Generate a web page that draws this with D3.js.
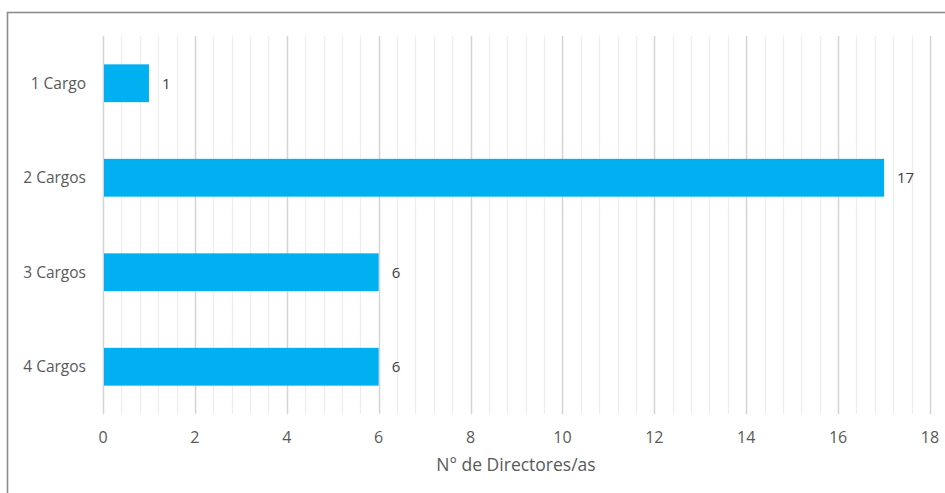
<!DOCTYPE html>
<html>
<head>
<meta charset="utf-8">
<script src="https://cdn.jsdelivr.net/npm/d3@7"></script>
<style>
  body { margin: 0; background: #fff; }
  text { font-family: "Open Sans", "Liberation Sans", sans-serif; }
</style>
</head>
<body>
<div id="chart"></div>
<script>
var width = 945;
var height = 493;

// data
var categories = ["1 Cargo", "2 Cargos", "3 Cargos", "4 Cargos"];
var values = [1, 17, 6, 6];
var xTicks = [0, 2, 4, 6, 8, 10, 12, 14, 16, 18];
var xTitle = "N° de Directores/as";

var plotLeft = 103, plotRight = 930, plotTop = 36, plotBottom = 414;

var svg = d3.select("#chart")
    .append("svg")
    .attr("width", width)
    .attr("height", height);

// outer chart border (runs off the right and bottom edge)
svg.append("rect")
    .attr("x", 7.5)
    .attr("y", 12.5)
    .attr("width", width + 20)
    .attr("height", height + 20)
    .attr("fill", "none")
    .attr("stroke", "#8c8c8c")
    .attr("stroke-width", 1.6);

var xScale = d3.scaleLinear().domain([0, 18]).range([plotLeft, plotRight]);
var yScale = d3.scaleBand().domain(categories).range([plotTop, plotBottom])
    .paddingInner(0.6).paddingOuter(0.3);

// minor gridlines every 0.4
var minor = d3.range(0, 18.001, 0.4).filter(function(v) {
  return Math.abs(v / 2 - Math.round(v / 2)) > 1e-6;
});
svg.append("g").selectAll("line")
    .data(minor)
    .enter()
    .append("line")
    .attr("x1", function(d) { return Math.round(xScale(d)) + 0.5; })
    .attr("x2", function(d) { return Math.round(xScale(d)) + 0.5; })
    .attr("y1", plotTop)
    .attr("y2", plotBottom)
    .attr("stroke", "#ededed")
    .attr("stroke-width", 1.3);

// major gridlines
svg.append("g").selectAll("line")
    .data(xTicks)
    .enter()
    .append("line")
    .attr("x1", function(d) { return Math.round(xScale(d)) + 0.5; })
    .attr("x2", function(d) { return Math.round(xScale(d)) + 0.5; })
    .attr("y1", plotTop)
    .attr("y2", plotBottom)
    .attr("stroke", "#d4d4d4")
    .attr("stroke-width", 1.5);

// bars
svg.append("g").selectAll("rect")
    .data(values)
    .enter()
    .append("rect")
    .attr("x", xScale(0) + 1)
    .attr("y", function(d, i) { return yScale(categories[i]); })
    .attr("width", function(d) { return xScale(d) - xScale(0) - 1; })
    .attr("height", yScale.bandwidth())
    .attr("fill", "#00b0f0");

// value labels
svg.append("g").selectAll("text")
    .data(values)
    .enter()
    .append("text")
    .attr("x", function(d) { return xScale(d) + 13; })
    .attr("y", function(d, i) { return yScale(categories[i]) + yScale.bandwidth() / 2; })
    .attr("dy", "0.35em")
    .attr("font-size", 15)
    .attr("fill", "#404040")
    .text(function(d) { return d; });

// category labels
svg.append("g").selectAll("text")
    .data(categories)
    .enter()
    .append("text")
    .attr("x", 86)
    .attr("y", function(d) { return yScale(d) + yScale.bandwidth() / 2; })
    .attr("dy", "0.35em")
    .attr("text-anchor", "end")
    .attr("font-size", 15.5)
    .attr("fill", "#595959")
    .text(function(d) { return d; });

// x tick labels
svg.append("g").selectAll("text")
    .data(xTicks)
    .enter()
    .append("text")
    .attr("x", function(d) { return xScale(d); })
    .attr("y", 437)
    .attr("dy", "0.35em")
    .attr("text-anchor", "middle")
    .attr("font-size", 16)
    .attr("fill", "#595959")
    .text(function(d) { return d; });

// axis title
svg.append("text")
    .attr("x", 516)
    .attr("y", 465)
    .attr("dy", "0.35em")
    .attr("text-anchor", "middle")
    .attr("font-size", 17.5)
    .attr("fill", "#595959")
    .text(xTitle);
</script>
</body>
</html>
